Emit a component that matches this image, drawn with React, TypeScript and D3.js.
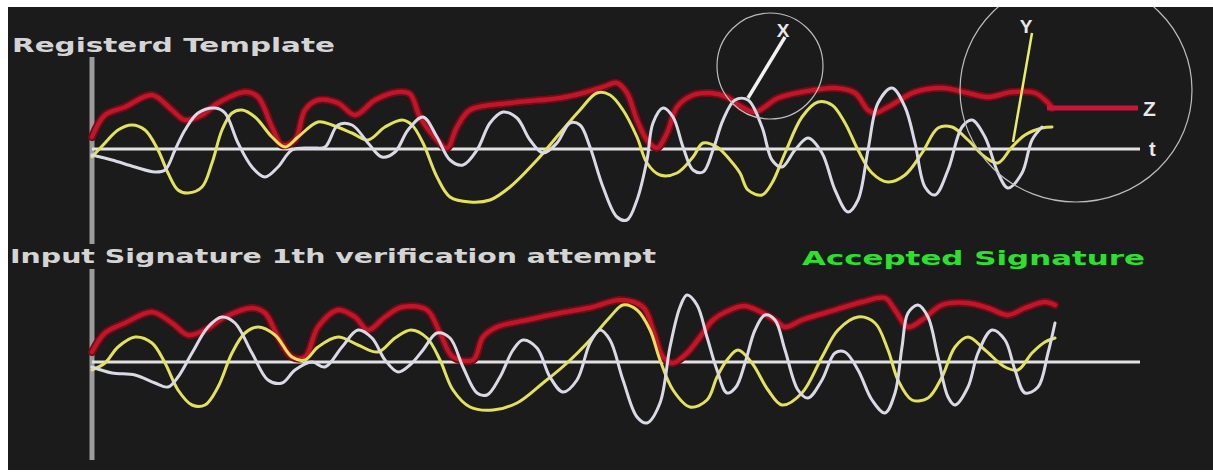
import * as d3 from "d3";

// pen signals sampled along time, value = offset from the t axis (up is positive)

// Registered template
const tplRedT = [0, 13, 33, 60, 80, 93, 110, 126, 153, 166, 180, 190, 203, 213, 226, 246, 263, 283, 306, 318, 328, 345, 355, 365, 378, 418, 468, 491, 511, 525, 535, 545, 555, 565, 575, 585, 601, 618, 635, 648, 663, 686, 710, 743, 763, 776, 783, 796, 823, 850, 876, 896, 920, 943, 956, 960];
const tplRedV = [12, 34, 42, 54, 39, 29, 34, 46, 57, 52, 22, 4, 9, 39, 49, 46, 34, 49, 57, 55, 32, 9, 1, 22, 39, 46, 51, 56, 62, 66, 56, 29, 9, 1, 16, 42, 54, 56, 52, 43, 37, 51, 57, 61, 56, 39, 36, 42, 57, 61, 56, 52, 57, 56, 46, 41];

const tplYellowT = [0, 13, 26, 40, 53, 66, 76, 86, 96, 110, 120, 130, 140, 150, 163, 180, 193, 206, 226, 240, 260, 276, 293, 310, 320, 331, 345, 358, 378, 398, 418, 445, 468, 488, 505, 518, 531, 545, 555, 568, 585, 601, 611, 625, 638, 648, 656, 670, 680, 693, 710, 726, 740, 753, 766, 780, 796, 813, 830, 846, 860, 876, 893, 906, 920, 933, 950, 960];
const tplYellowV = [-8, 6, 19, 24, 19, -1, -24, -41, -44, -38, -14, 19, 36, 39, 32, 12, 2, 12, 27, 24, 16, 9, 22, 29, 24, 6, -28, -48, -53, -51, -38, -11, 16, 39, 56, 54, 39, 12, -14, -26, -24, -8, 6, 2, -11, -24, -41, -46, -34, -4, 32, 47, 44, 26, -1, -24, -33, -26, -4, 21, 22, 9, -8, -14, 2, 14, 21, 22];

const tplWhiteT = [0, 20, 43, 63, 73, 83, 93, 106, 123, 133, 146, 160, 173, 186, 200, 220, 233, 246, 260, 276, 290, 303, 316, 331, 345, 358, 371, 385, 398, 411, 425, 438, 451, 465, 478, 488, 498, 511, 525, 535, 545, 555, 561, 571, 581, 591, 601, 611, 621, 631, 643, 656, 670, 680, 690, 703, 716, 730, 743, 756, 766, 776, 786, 800, 813, 823, 833, 843, 856, 870, 880, 893, 906, 916, 930, 940, 950];
const tplWhiteV = [-6, -11, -18, -23, -21, -1, 19, 36, 41, 36, 6, -18, -28, -18, -1, 1, 2, 24, 24, 6, -8, -3, 19, 32, 12, -11, -16, -1, 26, 37, 31, 9, -4, 6, 26, 24, 2, -38, -68, -71, -51, -11, 26, 41, 32, 2, -21, -23, -1, 29, 49, 49, 22, -11, -18, -1, 11, -4, -41, -63, -51, -1, 46, 61, 42, 6, -38, -46, -21, 22, 29, 12, -24, -39, -24, 9, 22];

// Input signature, 1st attempt
const inRedT = [0, 13, 33, 60, 80, 96, 113, 133, 160, 173, 186, 200, 213, 226, 246, 263, 276, 293, 310, 335, 348, 361, 381, 391, 405, 435, 468, 501, 528, 551, 561, 571, 581, 595, 608, 621, 638, 653, 683, 693, 710, 736, 770, 793, 803, 816, 830, 850, 876, 896, 916, 933, 953, 963];
const inRedV = [10, 29, 39, 50, 39, 27, 32, 45, 54, 49, 25, 5, 5, 35, 52, 45, 32, 45, 55, 52, 29, 5, 2, 25, 35, 42, 49, 55, 62, 55, 32, 5, -1, 9, 25, 42, 52, 56, 42, 35, 42, 50, 60, 64, 52, 35, 42, 57, 59, 54, 47, 54, 60, 57];

const inYellowT = [0, 13, 26, 43, 60, 73, 86, 100, 113, 126, 140, 153, 166, 183, 200, 213, 226, 246, 266, 286, 303, 319, 335, 348, 361, 378, 401, 425, 451, 475, 498, 518, 531, 545, 558, 568, 581, 598, 615, 625, 635, 646, 660, 676, 690, 710, 730, 746, 766, 783, 796, 806, 820, 836, 850, 863, 876, 893, 913, 926, 940, 953, 963];
const inYellowV = [-8, -1, 15, 25, 19, -1, -28, -43, -43, -25, 9, 29, 35, 27, 5, 2, 15, 25, 17, 10, 24, 32, 24, 2, -28, -45, -48, -41, -21, -1, 22, 45, 57, 52, 32, 2, -28, -45, -38, -15, 2, 12, -1, -28, -43, -31, 5, 32, 45, 39, 12, -18, -38, -36, -15, 15, 25, 12, -5, -8, 9, 20, 24];

const inWhiteT = [0, 20, 43, 63, 76, 86, 100, 116, 130, 143, 160, 176, 190, 203, 220, 233, 250, 266, 280, 293, 306, 319, 331, 345, 358, 371, 385, 395, 408, 421, 431, 445, 458, 471, 485, 498, 508, 518, 531, 545, 555, 568, 578, 588, 595, 605, 615, 625, 635, 644, 653, 663, 673, 683, 693, 706, 716, 730, 743, 753, 766, 780, 793, 803, 810, 816, 826, 836, 846, 856, 863, 876, 886, 900, 913, 923, 933, 946, 956, 963];
const inWhiteV = [-5, -11, -13, -21, -25, -15, 9, 35, 45, 39, 9, -18, -21, -8, 0, -5, 15, 32, 24, 2, -10, -2, 12, 29, 24, -5, -31, -33, -15, 12, 22, 14, -15, -30, -18, 19, 32, 22, -18, -55, -61, -41, 15, 55, 67, 57, 25, -8, -31, -25, -1, 32, 47, 42, 12, -28, -36, -18, 9, 10, -8, -38, -51, -31, 15, 49, 57, 45, 5, -35, -43, -25, 9, 32, 22, -8, -31, -25, 9, 39];

const traceColors = { red: "#bf1329", yellow: "#e3e25a", white: "#dadae6" };

const W = 1213;
const H = 473;
const tMax = 963;
const tAxisEnd = 1048;

const x = d3.scaleLinear().domain([0, tMax]).range([92, 1055]);
const yTop = d3.scaleLinear().domain([-80, 80]).range([229, 69]);
const yBottom = d3.scaleLinear().domain([-80, 80]).range([442, 282]);

function Trace({ t, v, y, color, width }: { t: number[]; v: number[]; y: d3.ScaleLinear<number, number>; color: string; width: number }) {
  const line = d3.line<number>()
    .x((_, i) => x(t[i]))
    .y((d) => y(d))
    .curve(d3.curveCatmullRom.alpha(0.5));
  return <path d={line(v)!} fill="none" stroke={color} strokeWidth={width} strokeLinecap="round" strokeLinejoin="round" />;
}

function Panel({ y, axisTop, axisBottom, red, yellow, white }: any) {
  return (
    <g filter="url(#soft)">
      <line x1={x(0)} x2={x(0)} y1={axisTop} y2={axisBottom} stroke="#9c9c9c" strokeWidth={5} />
      <line x1={x(0)} x2={x(tAxisEnd)} y1={y(0)} y2={y(0)} stroke="#e2e2e2" strokeWidth={3} />
      <Trace t={red[0]} v={red[1]} y={y} color="#6e0c16" width={8} />
      <Trace t={red[0]} v={red[1]} y={y} color={traceColors.red} width={4.5} />
      <Trace t={yellow[0]} v={yellow[1]} y={y} color={traceColors.yellow} width={3} />
      <Trace t={white[0]} v={white[1]} y={y} color={traceColors.white} width={3} />
    </g>
  );
}

export default function App() {
  const titleFont = "'DejaVu Sans', Verdana, sans-serif";
  return (
    <svg width={W} height={H} style={{ position: "absolute", left: 0, top: 0 }} fontFamily="'Liberation Sans', Arial, sans-serif">
      <defs>
        <filter id="soft" x="-5%" y="-5%" width="110%" height="110%">
          <feGaussianBlur stdDeviation={0.7} />
        </filter>
        <clipPath id="frame">
          <rect x={8} y={7} width={W - 8} height={463} />
        </clipPath>
      </defs>
      <rect width={W} height={H} fill="#ffffff" />
      <rect x={8} y={7} width={W - 8} height={463} fill="#1b1b1b" />

      <g fontFamily={titleFont} fontWeight="bold" fontSize={19}>
        <text x={12} y={52} fill="#d4d4d4" textLength={323} lengthAdjust="spacingAndGlyphs">Registerd Template</text>
        <text x={10} y={263} fill="#d4d4d4" textLength={646} lengthAdjust="spacingAndGlyphs">Input Signature 1th verification attempt</text>
        <text x={802} y={265} fill="#2ee02e" textLength={343} lengthAdjust="spacingAndGlyphs">Accepted Signature</text>
      </g>

      <Panel y={yTop} axisTop={57} axisBottom={244} red={[tplRedT, tplRedV]} yellow={[tplYellowT, tplYellowV]} white={[tplWhiteT, tplWhiteV]} />
      <Panel y={yBottom} axisTop={269} axisBottom={460} red={[inRedT, inRedV]} yellow={[inYellowT, inYellowV]} white={[inWhiteT, inWhiteV]} />

      {/* axis markers of the template */}
      <g clipPath="url(#frame)">
        <circle cx={770} cy={66} r={53} fill="none" stroke="#bdbdbd" strokeWidth={1.2} />
        <ellipse cx={1076} cy={90} rx={116} ry={112} fill="none" stroke="#bdbdbd" strokeWidth={1.2} />
      </g>
      <line x1={x(656)} y1={yTop(51)} x2={x(693)} y2={yTop(112)} stroke="#f2f2f2" strokeWidth={3.5} />
      <line x1={x(921)} y1={yTop(7)} x2={x(940)} y2={yTop(116)} stroke="#ecec66" strokeWidth={2.5} />
      <line x1={x(955)} y1={yTop(41)} x2={x(1046)} y2={yTop(41)} stroke="#c8163a" strokeWidth={5} />
      <g fontWeight="bold" fill="#e8e8e8">
        <text x={783} y={37} fontSize={19} textAnchor="middle">X</text>
        <text x={1026} y={33} fontSize={19} textAnchor="middle">Y</text>
        <text x={1143} y={116} fontSize={21}>Z</text>
        <text x={1149} y={156} fontSize={20}>t</text>
      </g>
    </svg>
  );
}
